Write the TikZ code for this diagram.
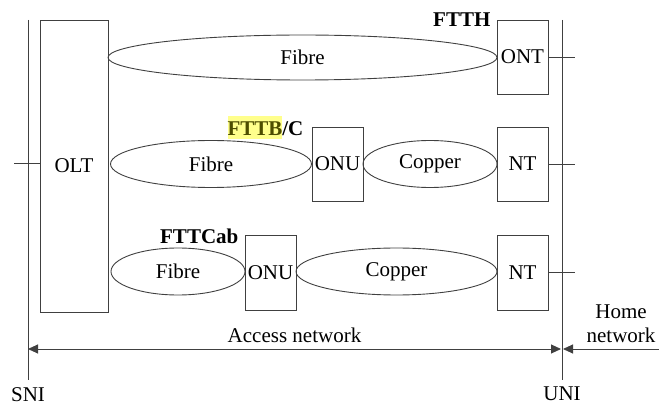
\documentclass[tikz,border=0pt]{standalone}
\usepackage{fontspec}
\setmainfont{Liberation Serif}
\newfontfamily\diagfont{Liberation Serif}
\usetikzlibrary{shapes.geometric,arrows.meta,positioning,calc}
\definecolor{linegray}{RGB}{64,64,64}
\definecolor{hlyellow}{RGB}{255,255,140}
\definecolor{olivetext}{RGB}{77,77,0}
\setlength{\fboxsep}{0pt}

\begin{document}
\begin{tikzpicture}[x=1pt,y=-1pt,
    txt/.style={font=\diagfont\fontsize{21}{24}\selectfont,inner sep=0pt},
    tag/.style={txt,font=\diagfont\fontsize{21}{24}\selectfont\bfseries,anchor=base east},
    unit/.style={txt,draw=linegray,line width=0.9pt,rectangle,minimum width=51pt,minimum height=74pt},
    link/.style={txt,draw=linegray,line width=0.9pt,ellipse,minimum height=47pt},
    wire/.style={draw=linegray,line width=0.9pt},
    tip/.tip={Triangle[length=10pt,width=9pt]}]

    \useasboundingbox (0,0) rectangle (659,406);

    \node[unit,minimum width=68pt,minimum height=292pt] (olt) at (74,166) {OLT};
    \node[unit] (ont) at (522.5,57) {ONT};
    \node[unit] (onuB) at (337.5,164) {ONU};
    \node[unit] (ntB) at (522.5,164) {NT};
    \node[unit,minimum height=75pt] (onuC) at (270.5,272.5) {ONU};
    \node[unit,minimum height=75pt] (ntC) at (522.5,272.5) {NT};

    \node[link,minimum width=389pt,minimum height=45pt] (fibA) at (302.5,57.5) {Fibre};
    \node[link,minimum width=201pt] (fibB) at (211,164) {Fibre};
    \node[link,minimum width=134pt] (copB) at (430,164) {Copper};
    \node[link,minimum width=134pt] (fibC) at (178,271.5) {Fibre};
    \node[link,minimum width=201pt] (copC) at (396.5,271.5) {Copper};

    \node[tag] (ftth) at ($(ont.north west)+(-6,7)$) {FTTH};
    \node[tag] (fttb) at ($(onuB.north west)+(-8,9)$) {\colorbox{hlyellow}{\rule[-3pt]{0pt}{23pt}\textcolor{olivetext}{FTTB}}/C};
    \node[tag] (fttcab) at ($(onuC.north west)+(-6,9)$) {FTTCab};

    \coordinate (sniTop) at (28,20);
    \coordinate (sniBot) at (28,380);
    \coordinate (uniTop) at (562,20);
    \coordinate (uniBot) at (562,380);
    \coordinate (oltTick) at (14,163);
    \coordinate (uniTick) at (575,0);
    \draw[wire] (sniTop) -- (sniBot);
    \draw[wire] (uniTop) -- (uniBot);
    \draw[wire] (olt.west |- oltTick) -- (oltTick);
    \foreach \n in {ont,ntB,ntC} \draw[wire] (\n.east) -- (\n.east -| uniTick);

    \node[txt,below=7pt of sniBot] (sni) {SNI};
    \node[txt,below=7pt of uniBot] (uni) {UNI};

    \coordinate (accL) at (28,349);
    \coordinate (accR) at (561,349);
    \coordinate (homeL) at (563,349);
    \coordinate (homeR) at (659,349);
    \draw[wire,tip-tip] (accL) -- (accR) node[txt,midway,above=6pt] (acc) {Access network};
    \draw[wire,-tip] (homeR) -- (homeL);
    \node[txt,align=center,anchor=south] (home) at (621,343) {Home\\network};

\end{tikzpicture}
\end{document}
